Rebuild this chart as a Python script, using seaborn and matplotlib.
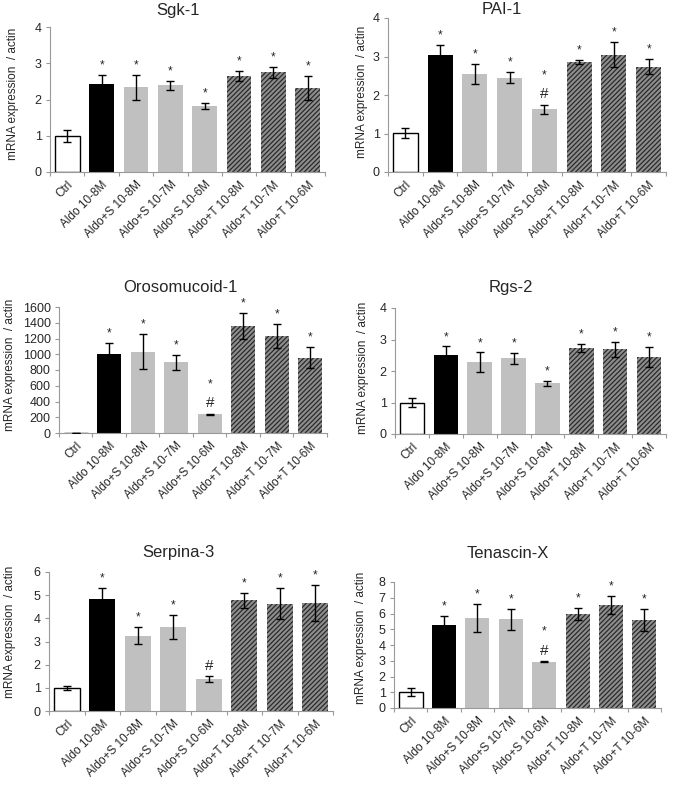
import matplotlib
matplotlib.use("Agg")
import matplotlib.pyplot as plt
import seaborn as sns
import pandas as pd
import numpy as np

sns.set_style("white")
plt.rcParams['font.family'] = ['Liberation Sans', 'DejaVu Sans']
plt.rcParams['hatch.linewidth'] = 0.9

categories = ["Ctrl", "Aldo 10-8M", "Aldo+S 10-8M", "Aldo+S 10-7M", "Aldo+S 10-6M",
              "Aldo+T 10-8M", "Aldo+T 10-7M", "Aldo+T 10-6M"]

sgk1_mean = [1.0, 2.43, 2.34, 2.39, 1.83, 2.65, 2.75, 2.32]
sgk1_err = [0.16, 0.25, 0.34, 0.13, 0.08, 0.13, 0.15, 0.32]
sgk1_marks = ["", "*", "*", "*", "*", "*", "*", "*"]

pai1_mean = [1.01, 3.03, 2.54, 2.45, 1.63, 2.86, 3.05, 2.74]
pai1_err = [0.12, 0.28, 0.26, 0.15, 0.12, 0.06, 0.33, 0.2]
pai1_marks = ["", "*", "*", "*", "*#", "*", "*", "*"]

oroso_mean = [5, 1007, 1033, 897, 237, 1359, 1236, 956]
oroso_err = [1, 135, 225, 93, 8, 165, 152, 136]
oroso_marks = ["", "*", "*", "*", "*#", "*", "*", "*"]

rgs2_mean = [1.0, 2.51, 2.28, 2.4, 1.61, 2.72, 2.69, 2.44]
rgs2_err = [0.13, 0.27, 0.31, 0.18, 0.08, 0.13, 0.24, 0.31]
rgs2_marks = ["", "*", "*", "*", "*", "*", "*", "*"]

serp_mean = [1.0, 4.82, 3.25, 3.62, 1.38, 4.77, 4.63, 4.66]
serp_err = [0.1, 0.5, 0.36, 0.51, 0.14, 0.34, 0.68, 0.78]
serp_marks = ["", "*", "*", "*", "#", "*", "*", "*"]

tnx_mean = [1.01, 5.26, 5.73, 5.64, 2.95, 5.96, 6.55, 5.6]
tnx_err = [0.25, 0.61, 0.9, 0.67, 0.03, 0.38, 0.55, 0.7]
tnx_marks = ["", "*", "*", "*", "*#", "*", "*", "*"]

ylabel_text = "mRNA expression  / actin"

# title, mean, err, marks, ymax, step, axes box (l, r, t, b) px, title center px, ylabel center px
panels = [
    ("Sgk-1", sgk1_mean, sgk1_err, sgk1_marks, 4, 1, (50, 325, 27, 172), (178, 11), (13, 94)),
    ("PAI-1", pai1_mean, pai1_err, pai1_marks, 4, 1, (388, 666, 18, 172), (502, 10), (362, 92)),
    ("Orosomucoid-1", oroso_mean, oroso_err, oroso_marks, 1600, 200, (59, 327, 307, 433), (180, 288), (10, 365)),
    ("Rgs-2", rgs2_mean, rgs2_err, rgs2_marks, 4, 1, (395, 666, 308, 434), (511, 288), (363, 368)),
    ("Serpina-3", serp_mean, serp_err, serp_marks, 6, 1, (49, 333, 572, 711), (178, 553), (10, 632)),
    ("Tenascin-X", tnx_mean, tnx_err, tnx_marks, 8, 1, (394, 661, 582, 708), (508, 553), (361, 638)),
]

W, H = 673, 785
fig = plt.figure(figsize=(W / 100, H / 100), dpi=100)

face = ["white", "black", "#c0c0c0", "#c0c0c0", "#c0c0c0", "#8e8e8e", "#8e8e8e", "#8e8e8e"]
axis_col = "#999999"

for title, mean, err, marks, ymax, step, (l, r, t, b), (tx, ty), (lx, ly) in panels:
    ax = fig.add_axes([l / W, 1 - b / H, (r - l) / W, (b - t) / H])
    df = pd.DataFrame({"group": categories, "value": mean})
    sns.barplot(data=df, x="group", y="value", hue="group", order=categories,
                palette=dict(zip(categories, face)), width=0.72, legend=False,
                ax=ax, errorbar=None, saturation=1)
    for i, patch in enumerate(ax.patches):
        if i == 0:
            patch.set_edgecolor("black")
            patch.set_linewidth(1.0)
        elif i >= 5:
            patch.set_hatch("///////")
            patch.set_edgecolor("#2a2a2a")
            patch.set_linewidth(0)
        else:
            patch.set_linewidth(0)
    xs = np.arange(len(categories))
    ax.errorbar(xs, mean, yerr=err, fmt="none", ecolor="black", elinewidth=1,
                capsize=3, capthick=1, zorder=5)
    for x, m, e, mk in zip(xs, mean, err, marks):
        top = m + e
        if mk == "*":
            ax.annotate("*", (x, top), xytext=(0, 2.5), textcoords="offset points",
                        ha="center", va="bottom", fontsize=8.5)
        elif mk == "*#":
            ax.annotate("#", (x, top), xytext=(0, 2.5), textcoords="offset points",
                        ha="center", va="bottom", fontsize=11)
            ax.annotate("*", (x, top), xytext=(0, 17), textcoords="offset points",
                        ha="center", va="bottom", fontsize=8.5)
        elif mk == "#":
            ax.annotate("#", (x, top), xytext=(0, 2), textcoords="offset points",
                        ha="center", va="bottom", fontsize=11)
    ax.set_xlim(-0.5, len(categories) - 0.5)
    ax.set_ylim(0, ymax)
    ax.set_yticks(np.arange(0, ymax + step / 2, step))
    ax.set_xticks(xs)
    ax.set_xticklabels(categories, rotation=45, ha="right", rotation_mode="anchor", fontsize=8.5)
    ax.set_xticks(np.arange(-0.5, len(categories), 1), minor=True)
    ax.tick_params(axis="x", which="major", length=0, pad=5)
    ax.tick_params(axis="x", which="minor", length=3, color=axis_col, width=0.8, direction="out", bottom=True)
    ax.tick_params(axis="y", length=3, color=axis_col, width=0.8, direction="out", left=True, labelsize=9, pad=3)
    for s in ["top", "right"]:
        ax.spines[s].set_visible(False)
    for s in ["left", "bottom"]:
        ax.spines[s].set_color(axis_col)
        ax.spines[s].set_linewidth(0.8)
    ax.set_xlabel("")
    ax.set_ylabel("")
    fig.text(lx / W, 1 - ly / H, ylabel_text, rotation=90, ha="center", va="center", fontsize=8.5)
    fig.text(tx / W, 1 - ty / H, title, ha="center", va="center", fontsize=12)

fig.savefig("out.png", dpi=100)
